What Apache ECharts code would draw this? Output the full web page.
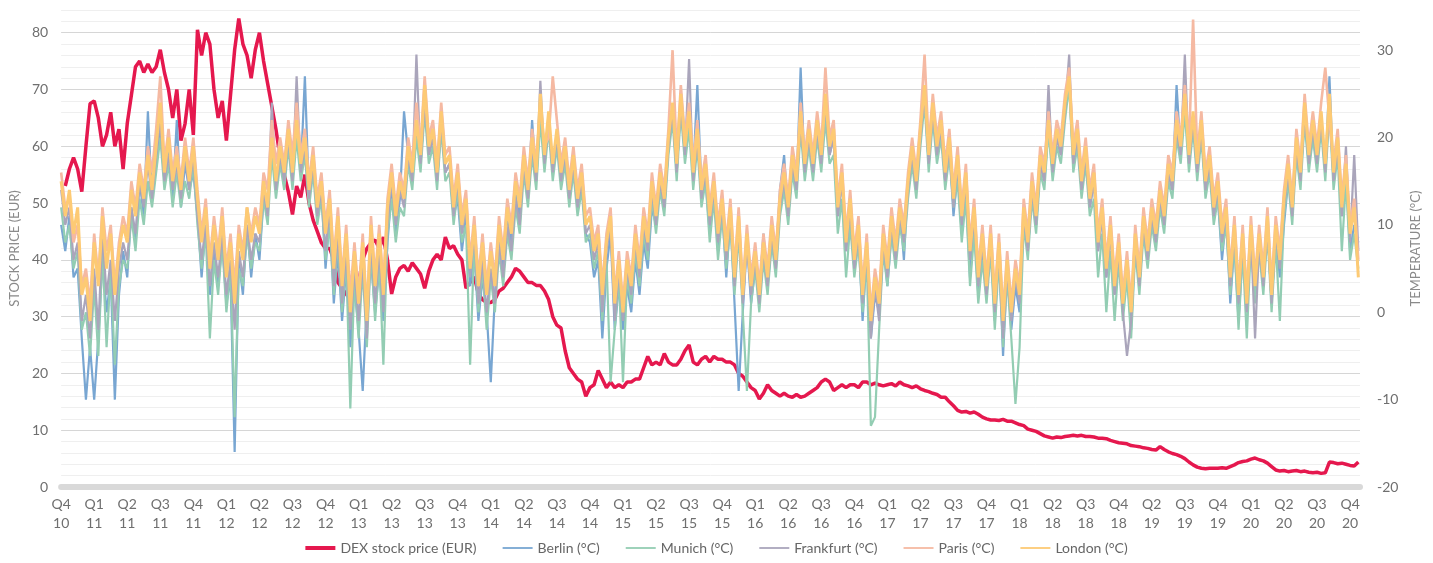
<!DOCTYPE html>
<html>
<head>
<meta charset="utf-8">
<script src="https://cdn.jsdelivr.net/npm/echarts@6/dist/echarts.min.js"></script>
<style>
  html, body { margin: 0; background: #fff; }
  #chart { width: 1433px; height: 563px; }
</style>
</head>
<body>
<div id="chart"></div>
<script>
// quarter labels (note: the source axis has no "Q1 19")
const quarterLabels = ['Q4\n10','Q1\n11','Q2\n11','Q3\n11','Q4\n11','Q1\n12','Q2\n12','Q3\n12','Q4\n12',
  'Q1\n13','Q2\n13','Q3\n13','Q4\n13','Q1\n14','Q2\n14','Q3\n14','Q4\n14','Q1\n15','Q2\n15','Q3\n15','Q4\n15',
  'Q1\n16','Q2\n16','Q3\n16','Q4\n16','Q1\n17','Q2\n17','Q3\n17','Q4\n17','Q1\n18','Q2\n18','Q3\n18','Q4\n18',
  'Q2\n19','Q3\n19','Q4\n19','Q1\n20','Q2\n20','Q3\n20','Q4\n20'];

// 8 samples per quarter step
const stockPrice = [
  null, 53, 56, 58, 56, 52, 60, 67.5,  68, 65, 60, 62, 66, 60, 63, 56,
  64, 69, 74, 75, 73, 74.5, 73, 74,  77, 73, 70, 65, 70, 61, 64, 70,
  62, 80.5, 76, 80, 78, 70, 65, 68,  61, 69, 77, 82.5, 78, 76, 72, 77,
  80, 75, 71, 67, 63, 58, 55, 52,  48, 53, 51, 55, 50, 47, 45, 43,
  42, 42, 40, 36, 35, 34, 33, 34,  36, 40, 42, 43, 43.5, 42, 44, 40,
  34, 37, 38.5, 39, 38, 39.5, 38.5, 37.5,  35, 38, 40, 41, 40, 44, 42, 42.5,
  41, 40, 35, 36, 37, 34, 33, 32.5,  32.5, 33, 34.5, 35, 36, 37, 38.5, 38,
  37, 36, 36, 35.5, 35.5, 34.5, 33, 30,  28.5, 28, 24, 21, 20, 19, 18.5, 16,
  17.5, 18, 20.5, 19, 17.5, 18.5, 17.5, 18,  17.5, 18.5, 18.5, 19, 19, 21, 23, 21.5,
  22, 21.5, 23.5, 22, 21.5, 21.5, 22.5, 24,  25, 22, 21.5, 22.5, 23, 22, 23, 22.5,
  22.5, 22, 22, 21.5, 20, 19.5, 18.5, 17.5,  17, 15.5, 16.5, 18, 17, 16.5, 16, 16.5,
  16, 15.8, 16.3, 15.8, 16, 16.5, 17, 17.5,  18.5, 19, 18.5, 17, 17.5, 18, 17.5, 18,
  18, 17.5, 18.5, 18.5, 18, 18.3, 18, 17.8,  18, 18.2, 17.8, 18.5, 18, 17.8, 17.5, 17.8,
  17.3, 17, 16.8, 16.5, 16.3, 15.8, 15.8, 15,  14.3, 13.5, 13.2, 13.3, 13, 13.2, 12.8, 12.3,
  12, 11.8, 11.8, 11.7, 11.9, 11.6, 11.6, 11.3,  11, 10.8, 10.2, 10, 9.8, 9.4, 9, 8.8,
  8.6, 8.8, 8.7, 8.9, 9, 9.1, 9, 9.1,  8.9, 8.9, 8.8, 8.6, 8.6, 8.5, 8.2, 8,
  7.8, 7.7, 7.6, 7.3, 7.2, 7.1, 6.9, 6.8,  6.6, 6.5, 7.1, 6.6, 6.2, 5.9, 5.7, 5.4,
  5, 4.4, 3.9, 3.5, 3.3, 3.2, 3.3, 3.3,  3.3, 3.4, 3.3, 3.6, 3.9, 4.3, 4.5, 4.6,
  4.9, 5.1, 4.8, 4.6, 4.2, 3.6, 3, 2.8,  2.9, 2.7, 2.8, 2.9, 2.7, 2.8, 2.6, 2.5,
  2.6, 2.4, 2.5, 4.4, 4.3, 4.1, 4.2, 4,  3.8, 3.7, 4.4
];

const berlin = [
  10, 7, 11, 4, 5, -3, -10, -4,  -10, -3, 6, 0, 4, -10, 2, 7,  4, 12, 8, 15, 11, 23, 13, 17,  21, 15, 19, 13, 22, 12, 17, 14,
  16, 11, 4, 10, 2, 7, 3, 8,  1, 4, -16, 6, 2, 10, 4, 9,  6, 13, 11, 21, 14, 18, 15, 21,  15, 21, 16, 27, 13, 17, 11, 14,
  5, 11, 1, 7, -1, 5, -4, 3,  -2, -9, 1, 6, 0, 5, -1, 8,  14, 9, 13, 23, 18, 15, 21, 17,  24, 18, 20, 15, 22, 16, 17, 11,
  13, 7, 11, 3, 7, -1, 4, 0,  -8, 2, 9, 5, 11, 8, 14, 11,  17, 13, 22, 15, 23, 17, 22, 16,  20, 15, 18, 13, 17, 12, 15, 9,
  8, 4, 6, -3, 5, 9, -2, 3,  -2, 3, 0, 6, 2, 8, 5, 12,  10, 15, 12, 19, 23, 16, 24, 18,  22, 16, 26, 14, 15, 9, 14, 7,
  12, 4, 11, 1, -9, 0, 8, 1,  5, 2, 9, 3, 8, 6, 14, 18,  11, 17, 14, 28, 16, 20, 16, 21,  17, 24, 18, 20, 11, 15, 7, 12,
  5, 9, -1, 7, -3, 2, 0, 8,  3, 9, 7, 12, 6, 15, 17, 15,  20, 25, 17, 23, 18, 21, 15, 19,  11, 16, 9, 14, 4, 10, 2, 7,
  2, 8, -1, 7, -5, 5, -2, 3,  0, 11, 7, 14, 10, 17, 15, 21,  16, 20, 18, 23, 26, 17, 20, 14,  18, 12, 15, 7, 11, 4, 9, 2,
  7, 0, 5, -2, 8, 3, 10, 6,  11, 8, 13, 10, 16, 14, 26, 18,  24, 17, 22, 16, 21, 14, 17, 11,  13, 6, 11, 1, 8, -1, 7, 0,
  9, 2, 8, 3, 10, 1, 9, 4,  10, 15, 12, 18, 16, 22, 17, 20,  17, 22, 16, 27, 15, 19, 11, 16,  7, 10, 8
];

const munich = [
  12, 8, 10, 5, 7, -2, 0, -5,  3, -5, 7, -4, 5, -6, 3, 6,  5, 11, 7, 13, 10, 15, 12, 16,  20, 14, 17, 12, 16, 12, 15, 13,
  17, 10, 5, 9, -3, 6, 2, 8,  0, 5, -12, 5, 3, 9, 5, 8,  7, 13, 10, 18, 13, 17, 14, 19,  14, 20, 15, 18, 12, 16, 10, 13,
  6, 10, 2, 8, 0, 6, -11, 4,  -3, 5, -4, 7, -1, 6, -6, 9,  13, 8, 12, 11, 17, 14, 20, 16,  23, 17, 19, 14, 21, 15, 16, 10,
  14, 8, 10, -6, 8, 0, 5, -2,  4, 0, 7, 3, 9, 6, 12, 9,  16, 12, 18, 14, 22, 16, 21, 15,  19, 14, 17, 12, 16, 11, 14, 8,
  9, 5, 7, -1, 6, -8, -2, 4,  -8, 4, 1, 7, 3, 9, 6, 13,  9, 14, 11, 18, 22, 15, 23, 17,  21, 14, 19, 12, 15, 8, 13, 6,
  11, 5, 10, 2, 9, 0, -9, 1,  5, 0, 6, 2, 8, 4, 11, 14,  10, 16, 13, 21, 15, 19, 15, 20,  16, 22, 17, 18, 9, 13, 4, 10,
  4, 8, 0, 6, -13, -12, -2, 7,  3, 9, 5, 10, 7, 13, 17, 13,  19, 24, 16, 22, 17, 20, 14, 18,  12, 15, 8, 13, 3, 9, 1, 6,
  1, 7, -2, 6, -4, 4, -3, -10.5,  -4, 10, 6, 13, 9, 16, 14, 21,  15, 19, 17, 22, 26, 16, 19, 13,  17, 11, 13, 4, 9, 0, 7, -1,
  6, -1, 4, -3, 7, 2, 9, 5,  10, 7, 12, 9, 15, 13, 20, 17,  23, 16, 21, 15, 20, 13, 16, 10,  13, 7, 10, 2, 8, -2, 7, -3,
  8, 1, 7, 2, 9, 0, 8, -1,  11, 15, 10, 18, 14, 22, 16, 20,  16, 21, 15, 23, 14, 18, 7, 15,  6, 9, 5
];

const frankfurt = [
  14, 10, 12, 6, 8, -1, 2, -3,  5, -2, 9, 2, 6, -1, 5, 8,  6, 12, 9, 15, 12, 17, 13, 18,  22, 15, 18, 14, 17, 13, 18, 14,
  18, 11, 6, 10, 3, 8, 4, 9,  2, 6, -2, 7, 4, 10, 6, 9,  8, 14, 11, 24, 14, 18, 15, 20,  15, 27, 16, 19, 13, 17, 11, 14,
  7, 12, 3, 9, 1, 7, -2, 5,  -1, 6, -3, 8, 1, 7, 0, 10,  15, 10, 14, 12, 18, 15, 29.5, 17,  24, 18, 20, 15, 22, 16, 17, 11,
  15, 9, 12, 4, 9, 1, 6, 0,  5, 1, 8, 4, 10, 7, 13, 10,  17, 13, 19, 15, 26.5, 17, 22, 16,  20, 15, 18, 13, 17, 12, 15, 9,
  10, 6, 8, 0, 7, 10, -1, 5,  -1, 5, 2, 8, 4, 10, 7, 14,  10, 15, 12, 19, 23, 16, 24, 18,  29, 15, 20, 13, 16, 10, 14, 8,
  12, 6, 11, 3, 10, 1, 8, 2,  6, 1, 7, 3, 9, 5, 12, 15,  11, 17, 14, 22, 16, 20, 16, 21,  17, 24, 18, 20, 11, 15, 7, 12,
  5, 9, 1, 7, -3, 3, -1, 8,  4, 10, 6, 11, 8, 14, 18, 14,  20, 25, 17, 23, 18, 21, 15, 19,  12, 17, 10, 15, 6, 11, 3, 8,
  2, 8, 0, 7, -3, 5, -1, 4,  1, 11, 7, 14, 10, 17, 15, 26,  16, 20, 18, 23, 29.5, 17, 20, 14,  18, 12, 15, 7, 11, 4, 9, 2,
  7, 0, -5, -1, 8, 3, 10, 6,  11, 8, 13, 10, 16, 14, 21, 18,  29.5, 17, 22, 16, 21, 14, 17, 11,  14, 8, 11, 3, 9, 1, 8, 0,
  9, -3, 8, 3, 10, 1, 9, 5,  12, 16, 11, 19, 15, 23, 17, 21,  17, 22, 16, 24, 15, 19, 11, 19,  8, 18, 7
];

const paris = [
  16, 12, 13, 8, 10, 3, 5, 1,  9, 4, 12, 7, 10, 3, 8, 11,  9, 15, 12, 17, 14, 19, 16, 21,  27, 17, 21, 16, 19, 15, 20, 16,
  20, 14, 9, 13, 6, 11, 7, 12,  5, 9, 3, 10, 7, 12, 9, 12,  10, 16, 14, 22, 17, 20, 17, 22,  18, 24, 18, 21, 15, 19, 13, 16,
  10, 14, 6, 12, 4, 10, 2, 8,  2, 9, 0, 11, 4, 10, 3, 13,  17, 12, 16, 14, 20, 17, 24, 19,  27, 20, 22, 17, 24, 18, 19, 13,
  17, 11, 14, 6, 11, 4, 9, 3,  8, 4, 11, 7, 13, 10, 16, 13,  19, 15, 21, 17, 24, 19, 20, 27,  22, 17, 20, 15, 19, 14, 17, 11,
  12, 8, 10, 3, 9, 12, 2, 7,  1, 7, 4, 10, 6, 12, 9, 16,  12, 17, 14, 21, 30, 18, 26, 20,  24, 17, 22, 15, 18, 12, 16, 10,
  14, 8, 13, 5, 12, 3, 10, 4,  8, 3, 9, 5, 11, 7, 14, 17,  13, 19, 16, 24, 18, 22, 18, 23,  19, 28, 20, 22, 13, 17, 9, 14,
  7, 11, 3, 9, 0, 5, 2, 10,  6, 12, 8, 13, 10, 16, 20, 16,  22, 29.5, 19, 25, 20, 23, 17, 21,  14, 19, 12, 17, 8, 13, 5, 10,
  4, 10, 2, 9, 0, 7, 1, 6,  3, 13, 9, 16, 12, 19, 17, 23,  18, 22, 20, 25, 28, 19, 22, 16,  20, 14, 17, 9, 13, 6, 11, 4,
  9, 2, 7, 1, 10, 5, 12, 8,  13, 10, 15, 12, 18, 16, 23, 20,  26, 19, 33.5, 18, 23, 16, 19, 13,  16, 10, 13, 5, 11, 3, 10, 2,
  11, 4, 10, 5, 12, 3, 11, 7,  14, 18, 13, 21, 17, 25, 19, 23,  19, 24, 28, 22, 17, 21, 13, 18,  10, 13, 6
];

const london = [
  15, 11, 14, 9, 12, 2, 4, -1,  8, 3, 11, 5, 9, 2, 7, 10,  8, 14, 11, 16, 13, 18, 14, 19,  24, 16, 20, 15, 18, 14, 19, 15,
  19, 13, 8, 12, 5, 10, 6, 11,  4, 8, 1, 9, 6, 12, 8, 11,  9, 15, 12, 20, 15, 19, 16, 21,  16, 22, 17, 20, 14, 18, 12, 15,
  9, 13, 5, 11, 3, 9, 0, 7,  1, 8, -1, 10, 3, 9, 2, 12,  16, 11, 15, 13, 19, 16, 22, 18,  26, 19, 21, 16, 23, 17, 18, 12,
  16, 10, 13, 5, 10, 3, 8, 2,  7, 3, 10, 6, 12, 9, 15, 12,  18, 14, 20, 16, 25, 18, 23, 17,  21, 16, 19, 14, 18, 13, 16, 10,
  11, 7, 9, 2, 8, 11, 1, 6,  0, 6, 3, 9, 5, 11, 8, 15,  11, 16, 13, 20, 24, 17, 25, 19,  23, 16, 21, 14, 17, 11, 15, 9,
  13, 7, 12, 4, 11, 2, 9, 3,  7, 2, 8, 4, 10, 6, 13, 16,  12, 18, 15, 23, 17, 21, 17, 22,  18, 25, 19, 21, 12, 16, 8, 13,
  6, 10, 2, 8, -1, 4, 1, 9,  5, 11, 7, 12, 9, 15, 19, 15,  21, 26, 18, 24, 19, 22, 16, 20,  13, 18, 11, 16, 7, 12, 4, 9,
  3, 9, 1, 8, -1, 6, 0, 5,  2, 12, 8, 15, 11, 18, 16, 22,  17, 21, 19, 24, 27, 18, 21, 15,  19, 13, 16, 8, 12, 5, 10, 3,
  8, 1, 6, 0, 9, 4, 11, 7,  12, 9, 14, 11, 17, 15, 22, 19,  25, 18, 23, 17, 22, 15, 18, 12,  15, 9, 12, 4, 10, 2, 9, 1,
  10, 3, 9, 4, 11, 2, 10, 6,  13, 17, 12, 20, 16, 24, 18, 22,  18, 23, 17, 25, 16, 20, 12, 17,  9, 12, 4
];

const labelColor = '#6f6f6f';
const font = 'Lato, "Open Sans", sans-serif';
const thickIcon = 'path://M0 0H30V4H0Z';
const thinIcon = 'path://M0 0H30V1.8H0Z';

function pairs(arr) {
  return arr.map(function (v, i) { return [i / 8, v]; });
}

function tempSeries(name, data, color, width) {
  return {
    name: name,
    type: 'line',
    yAxisIndex: 2,
    data: pairs(data),
    symbol: 'none',
    lineStyle: { width: width, color: color },
    itemStyle: { color: color }
  };
}

let myChart = echarts.init(document.getElementById('chart'));
let option = {
  animation: false,
  backgroundColor: '#fff',
  textStyle: { fontFamily: font },
  grid: { left: 58, right: 73, top: 10, bottom: 76 },
  legend: {
    bottom: 3,
    left: 'center',
    itemWidth: 30,
    itemHeight: 14,
    itemGap: 26,
    textStyle: { color: '#666', fontSize: 14, fontFamily: font },
    data: [
      { name: 'DEX stock price (EUR)', icon: thickIcon },
      { name: 'Berlin (°C)', icon: thinIcon },
      { name: 'Munich (°C)', icon: thinIcon },
      { name: 'Frankfurt (°C)', icon: thinIcon },
      { name: 'Paris (°C)', icon: thinIcon },
      { name: 'London (°C)', icon: thinIcon }
    ]
  },
  xAxis: {
    type: 'value',
    min: 0,
    max: 39.3,
    interval: 1,
    axisLine: { lineStyle: { color: '#d9d9d9', width: 6 } },
    axisTick: { show: false },
    splitLine: { show: false },
    axisLabel: {
      color: labelColor,
      fontSize: 14,
      lineHeight: 19,
      margin: 8,
      formatter: function (v) { return quarterLabels[v] || ''; }
    }
  },
  yAxis: [
    {
      // minor grid every 2 EUR
      type: 'value', min: 0, max: 84, interval: 2, position: 'left',
      axisLabel: { show: false }, axisLine: { show: false }, axisTick: { show: false },
      splitLine: { lineStyle: { color: '#efefef', width: 1 } }
    },
    {
      type: 'value', min: 0, max: 84, interval: 10, position: 'left',
      name: 'STOCK PRICE (EUR)',
      nameLocation: 'middle',
      nameGap: 40,
      nameTextStyle: { color: '#8a8a8a', fontSize: 13 },
      axisLine: { show: false }, axisTick: { show: false },
      axisLabel: { color: labelColor, fontSize: 14, margin: 13, showMaxLabel: false },
      splitLine: { lineStyle: { width: 1, color: ['#d6d6d6', '#d6d6d6', '#d6d6d6', '#d6d6d6', '#d6d6d6', '#d6d6d6', '#d6d6d6', '#d6d6d6', '#d6d6d6', '#efefef'] } }
    },
    {
      type: 'value', min: -20, max: 34.6, interval: 10, position: 'right',
      name: 'TEMPERATURE (°C)',
      nameLocation: 'middle',
      nameGap: 46,
      nameTextStyle: { color: '#8a8a8a', fontSize: 13 },
      axisLine: { show: false }, axisTick: { show: false },
      axisLabel: { color: labelColor, fontSize: 14, margin: 17, showMaxLabel: false },
      splitLine: { show: false }
    }
  ],
  series: [
    {
      name: 'DEX stock price (EUR)',
      type: 'line',
      yAxisIndex: 1,
      data: pairs(stockPrice),
      symbol: 'none',
      lineStyle: { width: 3.5, color: '#e5184e' },
      itemStyle: { color: '#e5184e' }
    },
    tempSeries('Berlin (°C)', berlin, '#78a6d2', 2.2),
    tempSeries('Munich (°C)', munich, '#93cdb3', 2.2),
    tempSeries('Frankfurt (°C)', frankfurt, '#aaa5bb', 2.2),
    tempSeries('Paris (°C)', paris, '#f5b9a2', 2.6),
    tempSeries('London (°C)', london, '#fdca74', 3)
  ]
};
myChart.setOption(option);
</script>
</body>
</html>
